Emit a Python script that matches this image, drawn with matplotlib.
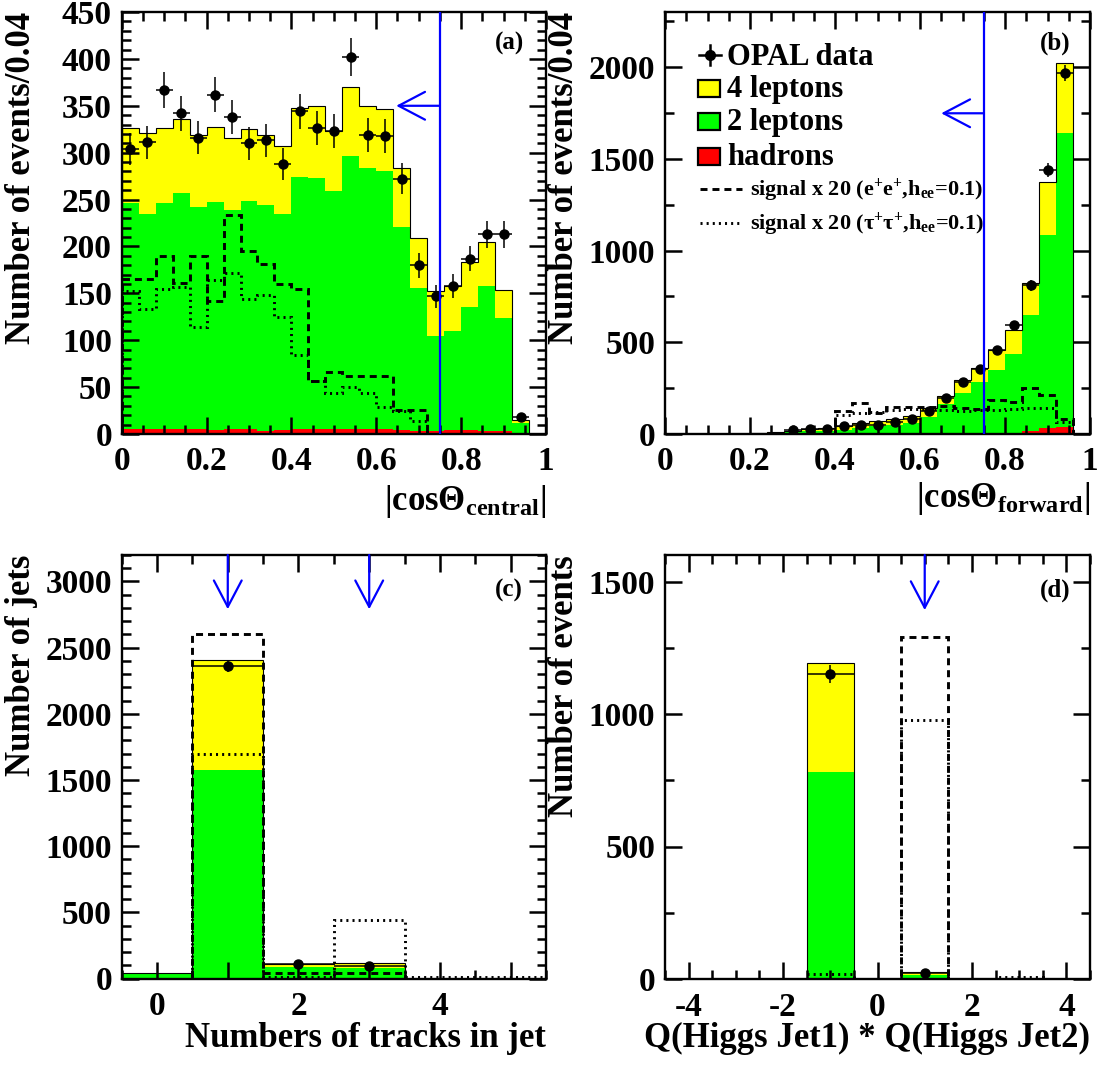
"""Doubly-charged Higgs search, selection variables: background stack,
OPAL data and scaled signal for the four cut variables."""

import numpy as np
import matplotlib
matplotlib.use("Agg")
import matplotlib.pyplot as plt
from matplotlib.ticker import MultipleLocator, FuncFormatter
from matplotlib.patches import Rectangle
from matplotlib.lines import Line2D

plt.rcParams["font.family"] = "Liberation Serif"
plt.rcParams["font.weight"] = "bold"
plt.rcParams["axes.labelweight"] = "bold"
plt.rcParams["mathtext.fontset"] = "custom"
plt.rcParams["mathtext.rm"] = "Liberation Serif:bold"
plt.rcParams["mathtext.it"] = "Liberation Serif:bold"
plt.rcParams["mathtext.bf"] = "Liberation Serif:bold"
plt.rcParams["mathtext.default"] = "bf"

YELLOW = "#ffff00"
GREEN = "#00ff00"
RED = "#ff0000"
BLUE = "#0000ff"

DASHED = (0, (2.4, 1.7))
DOTTED = (0, (0.7, 1.4))

# stacked levels: total = 4 leptons on top, 2lep = 2 leptons + hadrons, hadr = hadrons
# |cos theta_central|, 25 bins of 0.04
central_total = [326, 321, 326, 336, 319, 327, 316, 325, 319, 307, 348, 350, 323,
                 370, 350, 347, 284, 209, 153, 158, 183, 205, 154, 15, 0]
central_2lep = [246, 235, 246, 257, 242, 247, 239, 248, 244, 235, 274, 273, 259,
                296, 284, 280, 221, 156, 104, 110, 135, 158, 124, 12, 0]
central_hadr = [5, 5, 5, 5, 5, 4, 5, 5, 3, 4, 5, 5, 5, 5, 5, 5, 4, 3, 3, 4, 4, 3, 3, 0, 0]
central_sig_ee = [165, 165, 190, 161, 190, 142, 233, 195, 181, 160, 155, 57, 66,
                  62, 62, 62, 26, 26, 0, 0, 0, 0, 0, 0, 0]
central_sig_tt = [153, 133, 155, 157, 114, 164, 172, 144, 148, 125, 84, 56, 44,
                  50, 44, 29, 25, 14, 0, 0, 0, 0, 0, 0, 0]
central_data = [304, 311, 367, 342, 316, 362, 338, 310, 313, 288, 344, 326, 323,
                402, 319, 318, 272, 180, 147, 158, 187, 213, 213, 18, 0]

# |cos theta_forward|, 25 bins of 0.04
forward_total = [0, 0, 0, 0, 2, 5, 10, 18, 27, 34, 45, 58, 71, 80, 98, 139, 206,
                 293, 362, 457, 565, 824, 1371, 2020, 0]
forward_2lep = [0, 0, 0, 0, 1, 3, 6, 12, 14, 16, 22, 31, 43, 49, 58, 90, 166,
                221, 285, 350, 435, 647, 1082, 1643, 0]
forward_hadr = [0, 0, 0, 0, 0, 0, 0, 0, 0, 0, 0, 0, 0, 0, 0, 0, 0,
                2, 3, 4, 6, 15, 30, 40, 0]
forward_sig_ee = [0, 0, 0, 0, 0, 0, 0, 0, 0, 0, 127, 170, 117, 145, 145, 145, 150,
                  140, 135, 185, 175, 250, 212, 80, 0]
forward_sig_tt = [0, 0, 0, 0, 0, 0, 0, 0, 0, 0, 103, 112, 121, 130, 134, 134, 132,
                  127, 130, 130, 134, 139, 139, 67, 0]
forward_data = [0, 0, 0, 0, 0, 0, 0, 22, 27, 27, 43, 49, 49, 67, 81, 127, 195,
                281, 352, 458, 592, 810, 1437, 1966, 0]

# number of tracks in jet, 0..5
tracks_total = [38, 2407, 109, 117, 0, 0]
tracks_2lep = [35, 1578, 88, 83, 0, 0]
tracks_hadr = [0, 5, 0, 0, 0, 0]
tracks_sig_ee = [0, 2601, 43, 38, 0, 0]
tracks_sig_tt = [0, 1700, 15, 442, 8, 8]
tracks_data = [0, 2361, 109, 93, 0, 0]

# charge product of the two Higgs jets, -4..4
charge_total = [0, 0, 0, 1192, 0, 26, 0, 0, 0]
charge_2lep = [0, 0, 0, 782, 0, 14, 0, 0, 0]
charge_hadr = [0, 0, 0, 2, 0, 2, 0, 0, 0]
charge_sig_ee = [0, 0, 0, 0, 0, 1289, 0, 0, 0]
charge_sig_tt = [0, 0, 0, 18, 0, 977, 0, 8, 0]
charge_data = [0, 0, 0, 1150, 0, 24, 0, 0, 0]

cos_cut = 0.75


def draw_stack(ax, edges, total, two_lep, hadr, sig_ee, sig_tt, data):
    edges = np.asarray(edges, float)
    ax.stairs(total, edges, fill=True, color=YELLOW, lw=0)
    ax.stairs(two_lep, edges, fill=True, color=GREEN, lw=0)
    ax.stairs(hadr, edges, fill=True, color=RED, lw=0)
    ax.stairs(total, edges, color="black", lw=0.8)
    ax.stairs(sig_ee, edges, color="black", lw=2.1, ls=DASHED)
    ax.stairs(sig_tt, edges, color="black", lw=2.1, ls=DOTTED)

    data = np.asarray(data, float)
    centers = 0.5 * (edges[1:] + edges[:-1])
    half = 0.5 * np.diff(edges)
    m = data > 0
    ax.errorbar(centers[m], data[m], yerr=np.sqrt(data[m]), xerr=half[m],
                fmt="o", color="black", ms=6.5, elinewidth=1.1, capsize=0, zorder=5)


def style_axes(ax, xmaj, xmin, ymaj, ymin, xfmt=None):
    ax.xaxis.set_major_locator(MultipleLocator(xmaj))
    ax.xaxis.set_minor_locator(MultipleLocator(xmin))
    ax.yaxis.set_major_locator(MultipleLocator(ymaj))
    ax.yaxis.set_minor_locator(MultipleLocator(ymin))
    ax.xaxis.set_major_formatter(xfmt or FuncFormatter(lambda v, p: f"{v:g}"))
    ax.yaxis.set_major_formatter(FuncFormatter(lambda v, p: f"{v:g}"))
    ax.tick_params(which="both", direction="in", top=True, right=True,
                   width=1.8, labelsize=24)
    ax.tick_params(which="major", length=12)
    ax.tick_params(which="minor", length=6.5)
    ax.tick_params(axis="x", pad=9)
    ax.tick_params(axis="y", pad=7)
    for s in ax.spines.values():
        s.set_linewidth(1.7)


def cut_arrow(ax, start, tip):
    ax.annotate("", xy=tip, xytext=start,
                arrowprops=dict(arrowstyle="->,head_length=0.95,head_width=0.5",
                                color=BLUE, lw=1.6, shrinkA=0, shrinkB=0,
                                mutation_scale=20), zorder=6)


def set_titles(ax, xtitle, ytitle, xpos_y):
    ax.set_xlabel(xtitle, fontsize=25, loc="right")
    ax.set_ylabel(ytitle, fontsize=25, loc="top")
    ax.xaxis.label.set_va("baseline")
    ax.xaxis.set_label_coords(1.0, xpos_y)
    ax.yaxis.set_label_coords(-0.197, 1.0)


fig = plt.figure(figsize=(10.97, 10.65), dpi=100)
W, H = 1097.0, 1065.0


def px_axes(left, top, right, bottom):
    return fig.add_axes([left / W, 1 - bottom / H, (right - left) / W, (bottom - top) / H])


ax_a = px_axes(121.7, 12, 546, 434)
ax_b = px_axes(665, 12, 1090, 434)
ax_c = px_axes(121.7, 555, 546, 978.5)
ax_d = px_axes(665, 555, 1090, 979)

cos_edges = np.linspace(0, 1, 26)

# (a) central track
draw_stack(ax_a, cos_edges, central_total, central_2lep, central_hadr,
           central_sig_ee, central_sig_tt, central_data)
ax_a.set_xlim(0, 1)
ax_a.set_ylim(0, 450)
style_axes(ax_a, 0.2, 0.05, 50, 10)
ax_a.axvline(cos_cut, color=BLUE, lw=1.6, zorder=6)
cut_arrow(ax_a, (cos_cut, 350), (0.647, 350))
set_titles(ax_a, "|cosΘ$_{central}$|", "Number of events/0.04", -0.18)
ax_a.text(0.948, 0.912, "(a)", transform=ax_a.transAxes, ha="right", va="baseline", fontsize=18)

# (b) forward track
draw_stack(ax_b, cos_edges, forward_total, forward_2lep, forward_hadr,
           forward_sig_ee, forward_sig_tt, forward_data)
ax_b.set_xlim(0, 1)
ax_b.set_ylim(0, 2300)
style_axes(ax_b, 0.2, 0.05, 500, 250)
ax_b.axvline(cos_cut, color=BLUE, lw=1.6, zorder=6)
cut_arrow(ax_b, (cos_cut, 1748), (0.65, 1748))
set_titles(ax_b, "|cosΘ$_{forward}$|", "Number of events/0.04", -0.172)
ax_b.text(0.953, 0.912, "(b)", transform=ax_b.transAxes, ha="right", va="baseline", fontsize=18)

# legend of (b), laid out by hand
tr = ax_b.transAxes
ax_b.add_line(Line2D([0.080, 0.132], [0.898, 0.898], color="black", lw=1.8, transform=tr))
ax_b.add_line(Line2D([0.106, 0.106], [0.874, 0.922], color="black", lw=1.8, transform=tr))
ax_b.add_line(Line2D([0.106], [0.898], marker="o", ms=7, color="black", transform=tr))
ax_b.text(0.146, 0.874, "OPAL data", transform=tr, fontsize=22, va="baseline")
for label, col, base in [("4 leptons", YELLOW, 0.799),
                         ("2 leptons", GREEN, 0.720),
                         ("hadrons", RED, 0.637)]:
    ax_b.add_patch(Rectangle((0.077, base), 0.052, 0.041, transform=tr,
                             facecolor=col, edgecolor="black", lw=1.6))
    ax_b.text(0.146, base, label, transform=tr, fontsize=22, va="baseline")
ax_b.add_line(Line2D([0.082, 0.181], [0.580, 0.580], color="black", lw=2.1,
                     ls=DASHED, transform=tr))
ax_b.text(0.2, 0.566, "signal x 20 (e$^{+}$e$^{+}$,h$_{ee}$=0.1)", transform=tr,
          fontsize=16, va="baseline")
ax_b.add_line(Line2D([0.082, 0.181], [0.501, 0.501], color="black", lw=2.1,
                     ls=DOTTED, transform=tr))
ax_b.text(0.2, 0.486, "signal x 20 (τ$^{+}$τ$^{+}$,h$_{ee}$=0.1)", transform=tr,
          fontsize=16, va="baseline")

# (c) tracks per jet
track_edges = np.arange(-0.5, 6.0, 1.0)
draw_stack(ax_c, track_edges, tracks_total, tracks_2lep, tracks_hadr,
           tracks_sig_ee, tracks_sig_tt, tracks_data)
ax_c.set_xlim(-0.5, 5.5)
ax_c.set_ylim(0, 3200)
style_axes(ax_c, 1, 0.5, 500, 100,
           xfmt=FuncFormatter(lambda v, p: f"{v:g}" if round(v) % 2 == 0 else ""))
for n_tracks in (1, 3):
    cut_arrow(ax_c, (n_tracks, 3200), (n_tracks, 2790))
set_titles(ax_c, "Numbers of tracks in jet", "Number of jets", -0.161)
ax_c.text(0.946, 0.903, "(c)", transform=ax_c.transAxes, ha="right", va="baseline", fontsize=18)

# (d) charge product
charge_edges = np.arange(-4.5, 5.0, 1.0)
draw_stack(ax_d, charge_edges, charge_total, charge_2lep, charge_hadr,
           charge_sig_ee, charge_sig_tt, charge_data)
ax_d.set_xlim(-4.5, 4.5)
ax_d.set_ylim(0, 1600)
style_axes(ax_d, 2, 0.5, 500, 250)
cut_arrow(ax_d, (1, 1600), (1, 1392))
set_titles(ax_d, "Q(Higgs Jet1) * Q(Higgs Jet2)", "Number of events", -0.161)
ax_d.text(0.953, 0.903, "(d)", transform=ax_d.transAxes, ha="right", va="baseline", fontsize=18)

fig.savefig("out.png", dpi=100)
